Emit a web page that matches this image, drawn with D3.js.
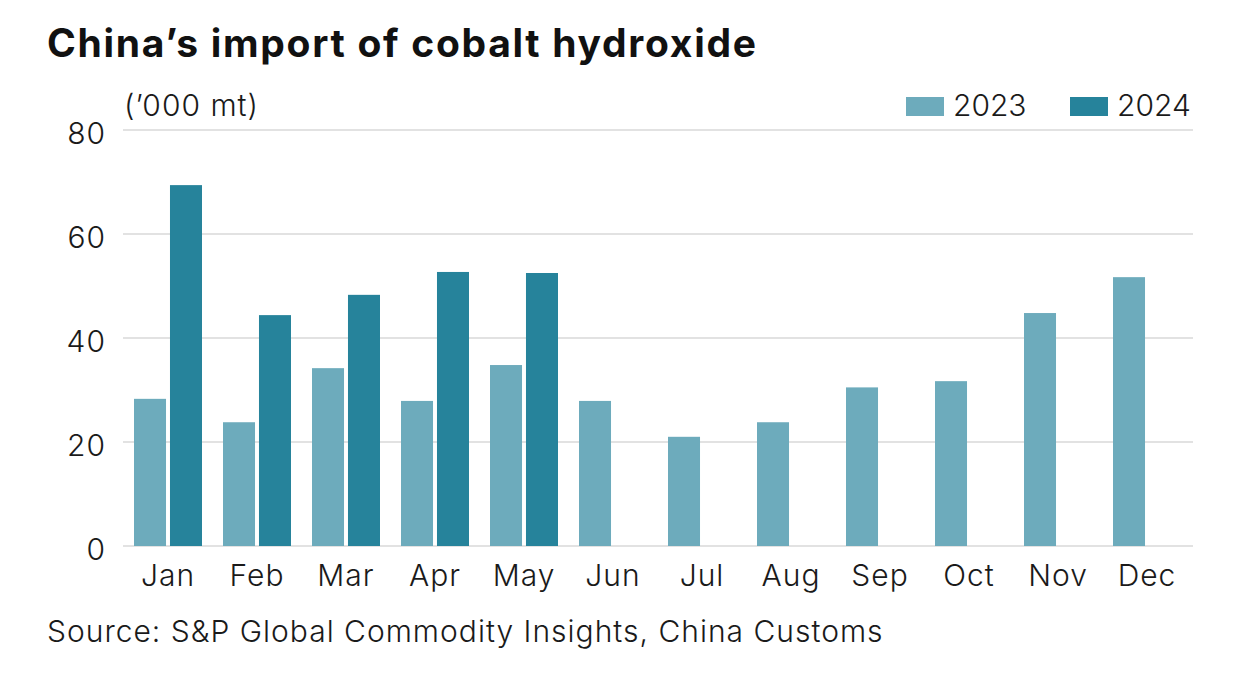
<!DOCTYPE html>
<html>
<head>
<meta charset="utf-8">
<script src="https://cdn.jsdelivr.net/npm/d3@7"></script>
<style>
  body { margin: 0; background: #fff; }
  svg { display: block; font-family: Inter, "Noto Sans", sans-serif; }
</style>
</head>
<body>
<div id="chart"></div>
<script>
const months = ['Jan', 'Feb', 'Mar', 'Apr', 'May', 'Jun', 'Jul', 'Aug', 'Sep', 'Oct', 'Nov', 'Dec']
const years = ['2023', '2024']
const values2023 = [28.3, 23.8, 34.2, 27.9, 34.8, 27.9, 21.0, 23.8, 30.5, 31.7, 44.8, 51.7]
const values2024 = [69.4, 44.4, 48.3, 52.7, 52.5, null, null, null, null, null, null, null]
const yTicks = [0, 20, 40, 60, 80]

const colors = { '2023': '#6dabbc', '2024': '#26839b' }
const width = 1242, height = 674
const margin = { top: 130, right: 49, bottom: 128, left: 125 }
const labelSize = 30

const data = months.map((m, i) => ({
  month: m,
  values: [
    { year: '2023', v: values2023[i] },
    { year: '2024', v: values2024[i] }
  ]
}))

const svg = d3.select('#chart').append('svg')
  .attr('width', width).attr('height', height)

const x0 = d3.scaleBand()
  .domain(months)
  .range([margin.left, width - margin.right])
  .padding(0)

// bars sit a bit left of centre in each month slot
const x1 = d3.scaleBand()
  .domain(years)
  .range([9, 77])
  .paddingInner(0.11)

const y = d3.scaleLinear()
  .domain([0, 80])
  .range([height - margin.bottom, margin.top])

// gridlines
svg.append('g')
  .attr('class', 'grid')
  .selectAll('line')
  .data(yTicks)
  .join('line')
    .attr('x1', margin.left - 2)
    .attr('x2', width - margin.right)
    .attr('y1', d => y(d))
    .attr('y2', d => y(d))
    .attr('stroke', '#d9d9d9')
    .attr('stroke-width', 1.3)

// y labels
svg.append('g')
  .selectAll('text')
  .data(yTicks)
  .join('text')
    .attr('x', 106)
    .attr('y', d => y(d) + 14)
    .attr('text-anchor', 'end')
    .attr('font-size', labelSize)
    .attr('font-weight', 300)
    .attr('letter-spacing', 1)
    .attr('fill', '#1a1a1a')
    .text(d => d)

// bars
const groups = svg.append('g')
  .selectAll('g')
  .data(data)
  .join('g')
    .attr('transform', d => 'translate(' + x0(d.month) + ',0)')

groups.selectAll('rect')
  .data(d => d.values.filter(v => v.v != null))
  .join('rect')
    .attr('x', d => x1(d.year))
    .attr('width', x1.bandwidth())
    .attr('y', d => y(d.v))
    .attr('height', d => y(0) - y(d.v))
    .attr('fill', d => colors[d.year])

// x axis labels
const xAxis = svg.append('g')
  .attr('transform', 'translate(0,' + (height - margin.bottom) + ')')
  .call(d3.axisBottom(x0).tickSize(0).tickPadding(12))
xAxis.select('.domain').remove()
xAxis.selectAll('text')
  .attr('x', 43 - x0.bandwidth() / 2)
  .attr('dy', '0.93em')
  .attr('font-size', labelSize)
  .attr('font-weight', 300)
  .attr('letter-spacing', 1)
  .attr('fill', '#1a1a1a')
  .attr('font-family', 'Inter, "Noto Sans", sans-serif')

// title
svg.append('text')
  .attr('x', 47).attr('y', 57)
  .attr('font-size', 39)
  .attr('font-weight', 700)
  .attr('letter-spacing', 1.7)
  .attr('fill', '#111')
  .text('China\u2019s import of cobalt hydroxide')

// unit label
svg.append('text')
  .attr('x', 124).attr('y', 116)
  .attr('font-size', labelSize)
  .attr('font-weight', 300)
  .attr('letter-spacing', 1)
  .attr('fill', '#1a1a1a')
  .text('(\u2019000 mt)')

// legend
const legend = svg.append('g')
  .selectAll('g')
  .data(years)
  .join('g')
    .attr('transform', (d, i) => 'translate(' + (906 + i * 164) + ',97)')
legend.append('rect')
  .attr('width', 38).attr('height', 19)
  .attr('fill', d => colors[d])
legend.append('text')
  .attr('x', 47).attr('y', 19)
  .attr('font-size', labelSize)
  .attr('font-weight', 300)
  .attr('fill', '#1a1a1a')
  .text(d => d)

// source
svg.append('text')
  .attr('x', 47).attr('y', 642)
  .attr('font-size', labelSize)
  .attr('font-weight', 300)
  .attr('letter-spacing', 1)
  .attr('fill', '#1a1a1a')
  .text('Source: S&P Global Commodity Insights, China Customs')
</script>
</body>
</html>
